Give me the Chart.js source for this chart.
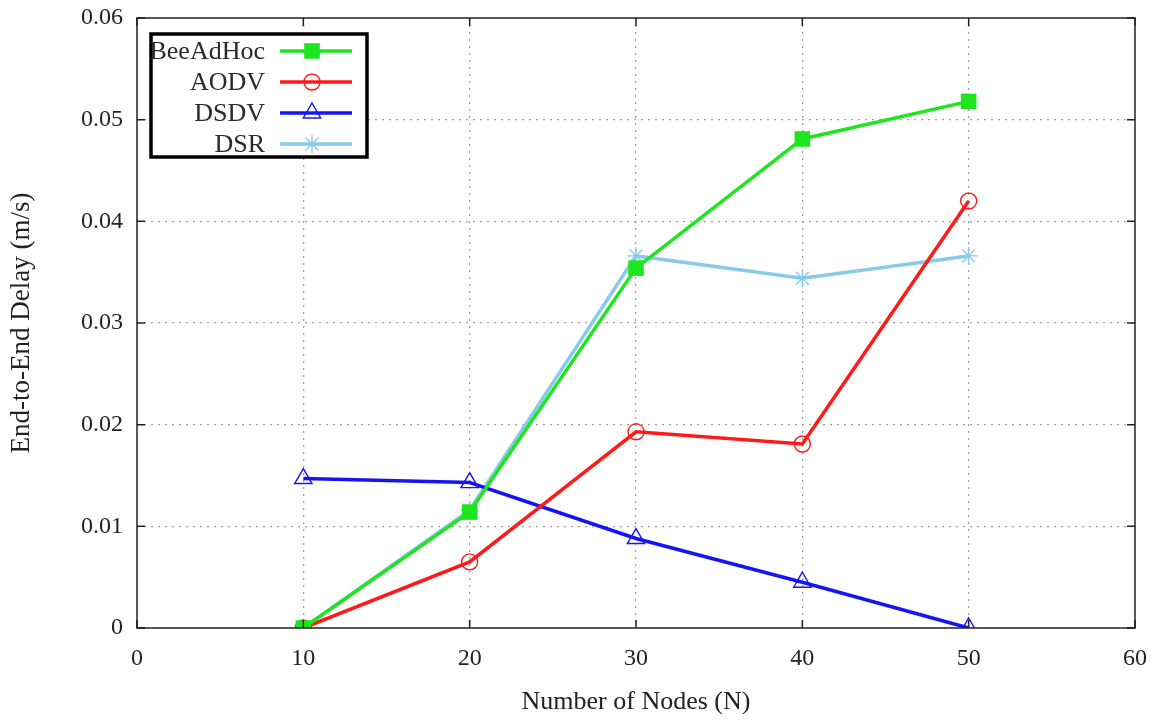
<!DOCTYPE html>
<html lang="en">
  <head>
    <meta charset="UTF-8" />
    <title>End-to-End Delay</title>
    <script src="https://cdn.jsdelivr.net/npm/chart.js"></script>
    <style>
      body { margin: 0; background: #fff; }
    </style>
  </head>
  <body>
    <canvas id="chart" width="1161" height="720"></canvas>

    <script>
      // values
      const nodes = [10, 20, 30, 40, 50];
      const beeAdHoc = [0, 0.0114, 0.0354, 0.0481, 0.0518];
      const aodv = [0, 0.0065, 0.0193, 0.0181, 0.042];
      const dsdv = [0.0147, 0.0143, 0.0088, 0.0045, 0];
      const dsr = [0, 0.0116, 0.0366, 0.0344, 0.0366];
      const xTicks = [0, 10, 20, 30, 40, 50, 60];
      const yTicks = [0, 0.01, 0.02, 0.03, 0.04, 0.05, 0.06];

      const FONT = "'Liberation Serif', 'DejaVu Serif', serif";

      function points(vals) {
        return nodes.map((n, i) => ({ x: n, y: vals[i] }));
      }

      function series(label, vals, color, style, radius, fill) {
        return {
          label: label,
          data: points(vals),
          borderColor: color,
          backgroundColor: fill ? color : "rgba(0,0,0,0)",
          pointBorderColor: color,
          pointBackgroundColor: fill ? color : "rgba(0,0,0,0)",
          pointStyle: style,
          pointRadius: radius,
          pointBorderWidth: fill ? 0 : 1.4,
          borderWidth: 3.5,
          tension: 0,
        };
      }

      const datasets = [
        series("BeeAdHoc", beeAdHoc, "#1ee61e", "rect", 11, true),
        series("AODV", aodv, "#ff1a1a", "circle", 8, false),
        series("DSDV", dsdv, "#1515f0", "triangle", 10, false),
        series("DSR", dsr, "#87cbe8", "star", 9, false),
      ];

      // frame with inward ticks + the boxed legend, gnuplot-style
      const framePlugin = {
        id: "frame",
        afterDatasetsDraw(chart) {
          const ctx = chart.ctx;
          const a = chart.chartArea;
          const xs = chart.scales.x;
          const ys = chart.scales.y;
          ctx.save();
          ctx.strokeStyle = "#222";
          ctx.lineWidth = 1.5;
          ctx.strokeRect(a.left, a.top, a.right - a.left, a.bottom - a.top);
          ctx.beginPath();
          xTicks.forEach((t) => {
            const px = xs.getPixelForValue(t);
            ctx.moveTo(px, a.bottom);
            ctx.lineTo(px, a.bottom - 8);
            ctx.moveTo(px, a.top);
            ctx.lineTo(px, a.top + 8);
          });
          yTicks.forEach((t) => {
            const py = ys.getPixelForValue(t);
            ctx.moveTo(a.left, py);
            ctx.lineTo(a.left + 8, py);
            ctx.moveTo(a.right, py);
            ctx.lineTo(a.right - 8, py);
          });
          ctx.stroke();

          // legend
          const box = { left: 151, top: 34, right: 367, bottom: 157 };
          ctx.fillStyle = "#fff";
          ctx.fillRect(box.left, box.top, box.right - box.left, box.bottom - box.top);
          ctx.strokeStyle = "#000";
          ctx.lineWidth = 3.5;
          ctx.strokeRect(box.left, box.top, box.right - box.left, box.bottom - box.top);

          ctx.font = "26px " + FONT;
          ctx.textAlign = "right";
          ctx.textBaseline = "middle";
          chart.data.datasets.forEach((ds, i) => {
            const y = 51 + i * 31;
            ctx.fillStyle = "#2a2a2a";
            ctx.fillText(ds.label, 265, y + 1);
            ctx.strokeStyle = ds.borderColor;
            ctx.lineWidth = 3.5;
            ctx.beginPath();
            ctx.moveTo(280, y);
            ctx.lineTo(352, y);
            ctx.stroke();
            ctx.fillStyle = ds.pointBackgroundColor;
            ctx.strokeStyle = ds.pointBorderColor;
            ctx.lineWidth = ds.pointBorderWidth;
            Chart.helpers.drawPoint(
              ctx,
              {
                pointStyle: ds.pointStyle,
                radius: ds.pointRadius,
                borderWidth: ds.pointBorderWidth,
                rotation: 0,
              },
              312,
              y
            );
          });
          ctx.restore();
        },
      };

      const tickFont = { family: FONT, size: 24 };

      new Chart(document.getElementById("chart"), {
        type: "line",
        data: { datasets: datasets },
        plugins: [framePlugin],
        options: {
          responsive: false,
          animation: false,
          layout: { padding: { top: 18, right: 26, left: 0, bottom: 0 } },
          plugins: {
            legend: { display: false },
            tooltip: { enabled: false },
          },
          scales: {
            x: {
              type: "linear",
              min: 0,
              max: 60,
              afterBuildTicks: (s) => {
                s.ticks = xTicks.map((v) => ({ value: v }));
              },
              ticks: {
                color: "#222",
                font: tickFont,
                padding: 16,
              },
              grid: {
                color: (c) =>
                  c.tick && (c.tick.value === 0 || c.tick.value === 60)
                    ? "rgba(0,0,0,0)"
                    : "#a0a0a0",
                lineWidth: 1.3,
                drawTicks: false,
              },
              border: { display: false, dash: [2, 5] },
              title: {
                display: true,
                text: "Number of Nodes (N)",
                color: "#222",
                font: { family: FONT, size: 26 },
                padding: { top: 0, bottom: 2 },
              },
              afterFit: (s) => {
                s.height = 92;
                s.paddingLeft = 0;
                s.paddingRight = 0;
              },
            },
            y: {
              min: 0,
              max: 0.06,
              afterBuildTicks: (s) => {
                s.ticks = yTicks.map((v) => ({ value: v }));
              },
              ticks: {
                color: "#222",
                font: tickFont,
                padding: 14,
                callback: (v) => (v === 0 ? "0" : v.toFixed(2)),
              },
              grid: {
                color: (c) =>
                  c.tick && (c.tick.value === 0 || c.tick.value === 0.06)
                    ? "rgba(0,0,0,0)"
                    : "#a0a0a0",
                lineWidth: 1.3,
                drawTicks: false,
              },
              border: { display: false, dash: [2, 5] },
              title: {
                display: true,
                text: "End-to-End Delay (m/s)",
                color: "#222",
                font: { family: FONT, size: 27 },
                padding: { top: 6, bottom: 0 },
              },
              afterFit: (s) => {
                s.width = 137;
                s.paddingTop = 0;
                s.paddingBottom = 0;
              },
            },
          },
        },
      });
    </script>
  </body>
</html>
